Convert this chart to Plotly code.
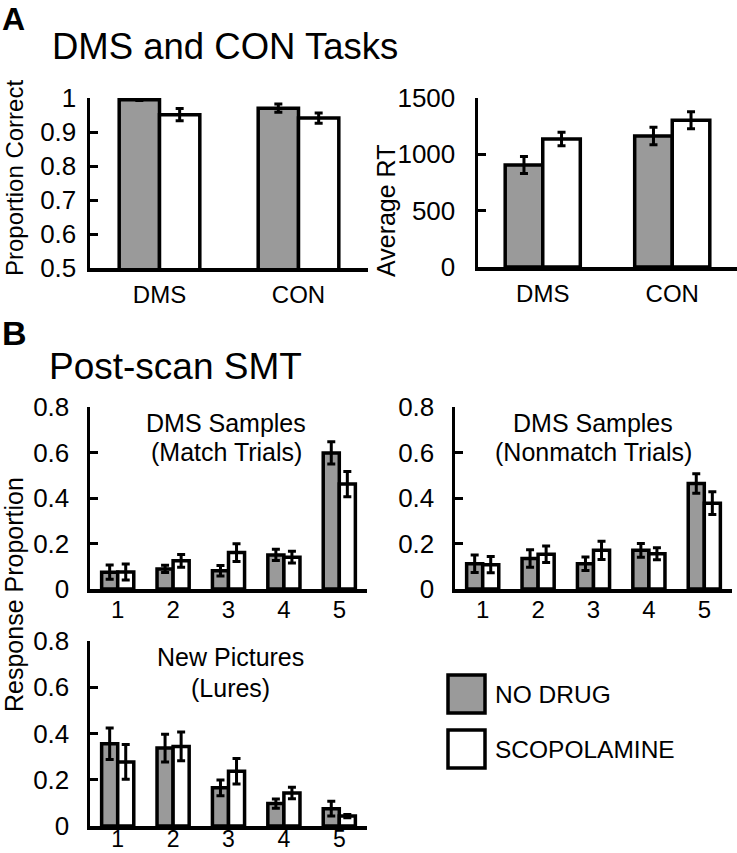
import plotly.graph_objects as go

# ---------------- data ----------------
tasks = ["DMS", "CON"]
acc_nodrug = [0.995, 0.970]
acc_nodrug_err = [0.002, 0.012]
acc_scop = [0.951, 0.941]
acc_scop_err = [0.018, 0.015]

rt_nodrug = [905, 1163]
rt_nodrug_err = [75, 77]
rt_scop = [1136, 1302]
rt_scop_err = [60, 75]

ratings = ["1", "2", "3", "4", "5"]
match_nodrug = [0.074, 0.088, 0.080, 0.150, 0.598]
match_nodrug_err = [0.031, 0.016, 0.023, 0.025, 0.049]
match_scop = [0.075, 0.124, 0.160, 0.140, 0.461]
match_scop_err = [0.035, 0.028, 0.039, 0.026, 0.055]

nonmatch_nodrug = [0.111, 0.134, 0.111, 0.170, 0.464]
nonmatch_nodrug_err = [0.038, 0.038, 0.030, 0.030, 0.043]
nonmatch_scop = [0.107, 0.153, 0.170, 0.155, 0.377]
nonmatch_scop_err = [0.036, 0.036, 0.040, 0.026, 0.050]

lure_nodrug = [0.356, 0.337, 0.165, 0.097, 0.075]
lure_nodrug_err = [0.068, 0.060, 0.034, 0.020, 0.032]
lure_scop = [0.277, 0.344, 0.237, 0.143, 0.043]
lure_scop_err = [0.075, 0.062, 0.055, 0.025, 0.007]

legend_names = ["NO DRUG", "SCOPOLAMINE"]

# ---------------- style ----------------
W, H = 737, 853
FONT = "Liberation Sans, Arial, Helvetica, sans-serif"
GRAY = "#9a9a9a"
LW = 3.5


def px(x0, x1):
    return [x0 / W, x1 / W]


def py(top, bottom):
    return [1 - bottom / H, 1 - top / H]


fig = go.Figure()


def add_pair(cats, a, ae, b, be, xa, ya, cap=4):
    for vals, errs, color, name in ((a, ae, GRAY, legend_names[0]), (b, be, "white", legend_names[1])):
        fig.add_trace(go.Bar(
            x=cats, y=vals, name=name, showlegend=False,
            marker=dict(color=color, line=dict(color="black", width=LW)),
            error_y=dict(type="data", array=errs, visible=True, color="black",
                         thickness=3, width=cap),
            xaxis=xa, yaxis=ya, hoverinfo="skip",
        ))


add_pair(tasks, acc_nodrug, acc_nodrug_err, acc_scop, acc_scop_err, "x", "y")
add_pair(tasks, rt_nodrug, rt_nodrug_err, rt_scop, rt_scop_err, "x2", "y2")
add_pair(ratings, match_nodrug, match_nodrug_err, match_scop, match_scop_err, "x3", "y3")
add_pair(ratings, nonmatch_nodrug, nonmatch_nodrug_err, nonmatch_scop, nonmatch_scop_err, "x4", "y4")
add_pair(ratings, lure_nodrug, lure_nodrug_err, lure_scop, lure_scop_err, "x5", "y5")

ytickfont = dict(family=FONT, size=26, color="black")
xtickfont = dict(family=FONT, size=24, color="black")

xbase = dict(showline=True, linecolor="black", linewidth=LW, ticks="", showgrid=False,
             zeroline=False, tickfont=xtickfont, fixedrange=True, automargin=False)
ybase = dict(showline=True, linecolor="black", linewidth=LW, ticks="inside", ticklen=8,
             tickwidth=3, tickcolor="black", showgrid=False, zeroline=False,
             tickfont=ytickfont, fixedrange=True, automargin=False)

layout = dict(
    width=W, height=H, margin=dict(l=0, r=0, t=0, b=0, autoexpand=False),
    paper_bgcolor="white", plot_bgcolor="white",
    barmode="group", bargap=0.42, bargroupgap=0,
    font=dict(family=FONT, color="black"),
    showlegend=False,
)

# Panel A left
layout["xaxis"] = dict(xbase, domain=px(90, 368), anchor="y", range=[-0.5, 1.5],
                       ticklabelstandoff=3)
layout["yaxis"] = dict(ybase, domain=py(98, 268), anchor="x", range=[0.5, 1.0],
                       tickvals=[0.5, 0.6, 0.7, 0.8, 0.9, 1.0],
                       ticktext=["0.5", "0.6", "0.7", "0.8", "0.9", "1"],
                       ticklabelstandoff=5)
# Panel A right
layout["xaxis2"] = dict(xbase, domain=px(478, 737), anchor="y2", range=[-0.5, 1.5],
                        ticklabelstandoff=3)
layout["yaxis2"] = dict(ybase, domain=py(98, 267), anchor="x2", range=[0, 1500],
                        tickvals=[0, 500, 1000, 1500], ticklabelstandoff=14)
# Panel B
for i, (xd, yd), sto, fs in zip((3, 4, 5),
                                (((90, 367), (407, 589)), ((455, 732), (407, 589)),
                                 ((90, 367), (641, 826))),
                                (-3, -3, -10), (24, 24, 23)):
    layout[f"xaxis{i}"] = dict(xbase, domain=px(*xd), anchor=f"y{i}", range=[-0.5, 4.5],
                               ticklabelstandoff=sto,
                               tickfont=dict(family=FONT, size=fs, color="black"))
    layout[f"yaxis{i}"] = dict(ybase, domain=py(*yd), anchor=f"x{i}", range=[0, 0.8],
                               tickvals=[0, 0.2, 0.4, 0.6, 0.8],
                               ticktext=["0", "0.2", "0.4", "0.6", "0.8"],
                               ticklabelstandoff=12)

fig.update_layout(**layout)


def ann(text, x, y, size, bold=False, xanchor="center", angle=0):
    fig.add_annotation(text=f"<b>{text}</b>" if bold else text,
                       x=x / W, y=1 - y / H, xref="paper", yref="paper",
                       xanchor=xanchor, yanchor="middle", showarrow=False,
                       textangle=angle,
                       font=dict(family=FONT, size=size, color="black"))


ann("A", 0, 19, 32, bold=True, xanchor="left")
ann("B", 0, 333, 34, bold=True, xanchor="left")
ann("DMS and CON Tasks", 50, 46, 36.5, xanchor="left")
ann("Post-scan SMT", 47, 366, 37, xanchor="left")

ann("DMS Samples", 226, 423, 25)
ann("(Match Trials)", 226, 452, 25)
ann("DMS Samples", 593, 423, 25)
ann("(Nonmatch Trials)", 593, 452, 25)
ann("New Pictures", 230, 657, 25)
ann("(Lures)", 230, 688, 25)

ann("Proportion Correct", 14, 178, 24, angle=-90)
ann("Average RT", 386, 211, 25, angle=-90)
ann("Response Proportion", 14, 595, 25, angle=-90)

# legend (swatches + labels)
for (top, bottom), color, name in (((675, 713), GRAY, legend_names[0]),
                                   ((730, 768), "white", legend_names[1])):
    fig.add_shape(type="rect", xref="paper", yref="paper",
                  x0=448 / W, x1=485 / W, y0=1 - bottom / H, y1=1 - top / H,
                  fillcolor=color, line=dict(color="black", width=LW))
    ann(name, 493, (top + bottom) / 2, 24.5, xanchor="left")

fig.write_html("out.html",
               config={"displayModeBar": False, "staticPlot": True},
               post_script="document.body.style.margin='0';document.body.style.overflow='hidden';")
